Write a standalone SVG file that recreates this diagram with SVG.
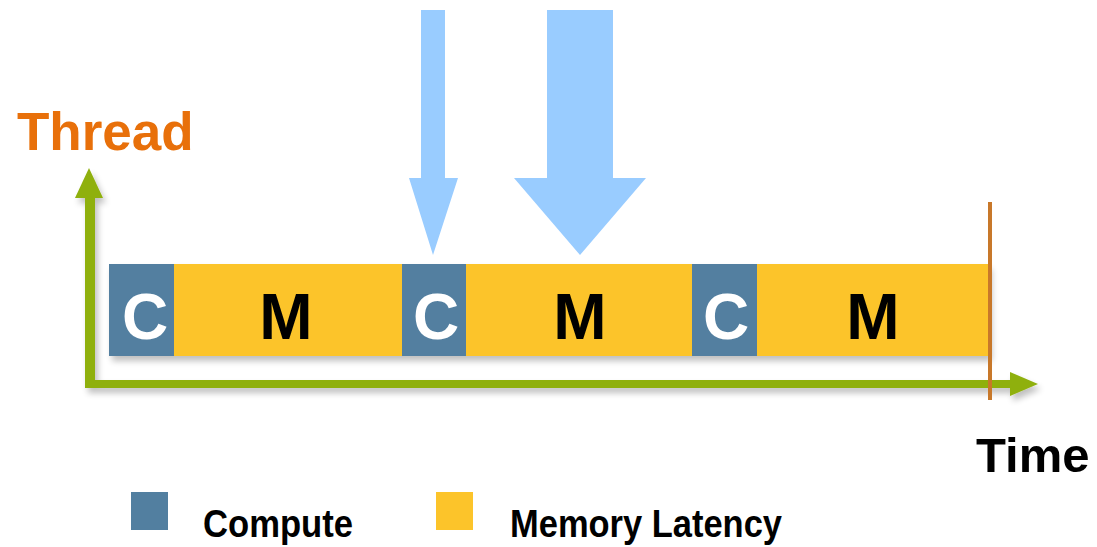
<svg xmlns="http://www.w3.org/2000/svg" width="1097" height="547" viewBox="0 0 1097 547">
<style>
.c{fill:#527fa0}
.m{fill:#fcc42a}
.lc{font-family:"Liberation Sans",Arial,sans-serif;font-weight:bold;font-size:64px;fill:#fff;text-anchor:middle}
.lm{font-family:"Liberation Sans",Arial,sans-serif;font-weight:bold;font-size:64px;fill:#000;text-anchor:middle}
.leg{font-family:"Liberation Sans",Arial,sans-serif;font-weight:bold;font-size:39px;fill:#000}
.ax{fill:#8fb010}
.bl{fill:#99ccff}
</style>
<defs>
<filter id="sh" x="-5%" y="-20%" width="110%" height="160%">
<feGaussianBlur in="SourceAlpha" stdDeviation="3"/>
<feOffset dx="3" dy="5" result="b"/>
<feComponentTransfer><feFuncA type="linear" slope="0.25"/></feComponentTransfer>
<feMerge><feMergeNode/><feMergeNode in="SourceGraphic"/></feMerge>
</filter>
</defs>
<rect width="1097" height="547" fill="#fff"/>
<text x="17" y="150" font-family="Liberation Sans,Arial,sans-serif" font-weight="bold" font-size="53" fill="#e8700a">Thread</text>
<text x="976" y="472" font-family="Liberation Sans,Arial,sans-serif" font-weight="bold" font-size="49" fill="#000">Time</text>
<g id="axes" filter="url(#sh)">
<rect class="ax" x="85" y="195" width="10" height="193"/>
<polygon class="ax" points="75,198 89,168 103,198"/>
<rect class="ax" x="85" y="380" width="927" height="8"/>
<polygon class="ax" points="1010,372 1038,384 1010,396"/>
</g>
<g id="bar" filter="url(#sh)">
<g id="c1"><rect class="c" x="109" y="264" width="65" height="92"/><text class="lc" x="145" y="339">C</text></g>
<g id="m1"><rect class="m" x="174" y="264" width="228" height="92"/><text class="lm" x="286" y="339">M</text></g>
<g id="c2"><rect class="c" x="402" y="264" width="64" height="92"/><text class="lc" x="436" y="339">C</text></g>
<g id="m2"><rect class="m" x="466" y="264" width="226" height="92"/><text class="lm" x="580" y="339">M</text></g>
<g id="c3"><rect class="c" x="692" y="264" width="65" height="92"/><text class="lc" x="726" y="339">C</text></g>
<g id="m3"><rect class="m" x="757" y="264" width="232" height="92"/><text class="lm" x="873" y="339">M</text></g>
</g>
<rect id="end" x="988" y="202" width="4" height="198" fill="#c8782a"/>
<g id="connectors">
<polygon class="bl" points="421,10 445,10 445,178 458,178 433,255 409,178 421,178"/>
<polygon class="bl" points="547,10 613,10 613,178 646,178 580,255 514,178 547,178"/>
</g>
<g id="legend">
<rect class="c" x="131" y="492" width="37" height="38"/>
<text class="leg" x="203" y="537" textLength="150" lengthAdjust="spacingAndGlyphs">Compute</text>
<rect class="m" x="436" y="492" width="37" height="38"/>
<text class="leg" x="510" y="537" textLength="272" lengthAdjust="spacingAndGlyphs">Memory Latency</text>
</g>
</svg>
